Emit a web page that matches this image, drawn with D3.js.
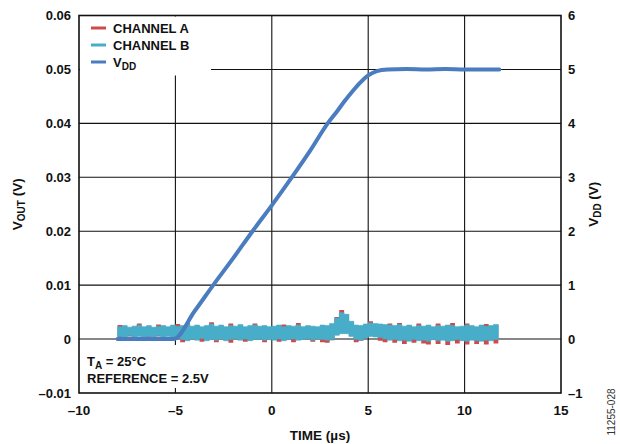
<!DOCTYPE html>
<html>
<head>
<meta charset="utf-8">
<script src="https://cdn.jsdelivr.net/npm/d3@7"></script>
<style>
  body { margin: 0; background: #fff; }
  svg { display: block; }
  text { font-family: "Liberation Sans", Arial, sans-serif; font-weight: bold; fill: #111; }
  text.code { font-weight: normal; fill: #333; }
</style>
</head>
<body>
<svg id="chart" width="620" height="444"></svg>
<script>
// time grid of the scope capture, µs (step 0.25)
const timeUs = d3.range(0, 80).map((i) => -8 + i * 0.25);

// channel B (cyan) noise band, mV
const chanBTop = [
  2.3, 2.5, 2.2, 2.4, 2.6, 2.3, 2.5, 2.2, 2.4, 2.5, 2.3, 2.6, 2.4,
  2.5, 2.7, 2.4, 2.6, 2.3, 2.5, 2.8, 2.4, 2.6, 2.3, 2.5, 2.4, 2.7, 2.3, 2.5, 2.6, 2.4, 2.5, 2.3,
  2.4, 2.6, 2.3, 2.5, 2.4, 2.6, 2.3, 2.5, 2.4, 2.3, 2.6, 2.5,
  2.9, 3.9, 4.9, 4.6, 3.3, 2.6, 2.5,
  2.8, 3.0, 2.9, 2.8, 2.7, 2.6, 2.5, 2.7,
  2.4, 2.6, 2.3, 2.5, 2.4, 2.6, 2.3, 2.5, 2.4, 2.6, 2.5, 2.3, 2.4, 2.6, 2.5, 2.3, 2.6, 2.4, 2.5, 2.7, 2.6
];
const chanBBot = [
  0.5, 0.4, 0.6, 0.4, 0.5, 0.3, 0.5, 0.4, 0.6, 0.4, 0.5, 0.4, 0.3,
  -0.1, -0.3, 0.0, -0.2, 0.1, -0.3, -0.1, -0.2, 0.0, -0.3, -0.1, 0.1, -0.2, 0.0, -0.3, -0.1, 0.0, -0.2, -0.1,
  -0.2, 0.0, -0.3, -0.1, 0.0, -0.2, -0.1, 0.1, -0.2, 0.0, -0.1, -0.2,
  -0.1, 0.7, 1.0, 1.0, 0.5, -0.1, -0.2,
  0.2, 0.5, 0.4, 0.3, 0.0, -0.2, -0.1, -0.3,
  -0.2, -0.4, -0.1, -0.3, -0.2, -0.4, -0.1, -0.3, -0.2, -0.4, -0.3, -0.1, -0.3, -0.4, -0.2, -0.3, -0.4, -0.2, -0.3, -0.1, -0.2
];

// channel A (red) noise band, mV
const chanATop = [
  2.6, 2.3, 2.1, 2.3, 2.9, 2.2, 2.4, 2.1, 2.7, 2.4, 2.2, 2.5, 2.8,
  2.4, 3.0, 2.3, 2.5, 2.2, 2.4, 3.1, 2.3, 2.5, 2.2, 2.9, 2.3, 2.6, 2.2, 2.4, 2.9, 2.3, 2.4, 2.2,
  2.3, 2.5, 2.7, 2.4, 2.3, 3.0, 2.2, 2.4, 2.3, 2.2, 2.5, 2.4,
  2.8, 4.1, 5.4, 4.5, 3.2, 2.5, 2.4,
  2.7, 3.3, 2.8, 2.7, 2.6, 2.9, 2.4, 3.0,
  2.3, 2.5, 2.2, 2.9, 2.3, 2.5, 2.2, 2.9, 2.3, 2.5, 3.0, 2.2, 2.3, 2.9, 2.4, 2.2, 2.5, 2.8, 2.4, 2.6, 2.5
];
const chanABot = [
  0.4, 0.5, 0.5, 0.3, 0.6, 0.4, 0.4, 0.5, 0.5, 0.3, 0.6, 0.5, 0.4,
  -0.6, -0.2, 0.1, -0.1, -0.5, -0.2, 0.0, -0.6, 0.1, -0.2, -0.7, 0.2, -0.1, -0.5, -0.2, 0.0, 0.1, -0.6, 0.0,
  -0.1, -0.5, -0.2, 0.0, -0.6, -0.1, 0.0, 0.2, -0.5, 0.1, -0.6, -0.7,
  -0.2, 0.8, 1.1, 1.1, 0.6, -0.6, -0.3,
  0.3, 0.6, 0.5, -0.3, -0.6, -0.1, -0.7, -0.2,
  -0.9, -0.3, -0.7, -0.2, -0.8, -1.0, 0.0, -0.9, -0.1, -1.1, -0.2, -0.8, -0.2, -1.0, -0.1, -0.9, -0.3, -1.0, -0.2, -0.8, -0.6
];

// supply ramp
const vddTime = [-8, -5.1, -4.0, -3.0, -2.0, -1.0, 0, 1.0, 2.0, 2.9, 3.4, 3.75, 4.2, 4.6, 5.0, 5.45, 6.0, 7.0, 8.0, 9.0, 10.0, 11.0, 11.8];
const vddVolts = [0, 0, 0.52, 1.02, 1.5, 2.0, 2.48, 2.98, 3.5, 4.0, 4.23, 4.4, 4.6, 4.76, 4.89, 4.97, 5.0, 5.01, 5.0, 5.01, 5.0, 5.0, 5.0];

const xTicks = [-10, -5, 0, 5, 10, 15];
const xTickLabels = ["–10", "–5", "0", "5", "10", "15"];
const yTicks = [-0.01, 0, 0.01, 0.02, 0.03, 0.04, 0.05, 0.06];
const yTickLabels = ["–0.01", "0", "0.01", "0.02", "0.03", "0.04", "0.05", "0.06"];
const yRightTicks = [-1, 0, 1, 2, 3, 4, 5, 6];
const yRightLabels = ["–1", "0", "1", "2", "3", "4", "5", "6"];

const colA = "#cf4a4c";
const colB = "#48adc8";
const colVdd = "#4a7dbf";

const svg = d3.select("#chart");
const L = 79, R = 561, T = 15.5, B = 393;

const x = d3.scaleLinear().domain([-10, 15]).range([L, R]);
const y = d3.scaleLinear().domain([-0.01, 0.06]).range([B, T]);
const yR = d3.scaleLinear().domain([-1, 6]).range([B, T]);

// grid
const grid = svg.append("g").attr("stroke", "#111").attr("stroke-width", 1.1);
xTicks.slice(1, -1).forEach((t) => {
  grid.append("line").attr("x1", x(t)).attr("x2", x(t)).attr("y1", T).attr("y2", B);
});
yTicks.slice(1, -1).forEach((t) => {
  grid.append("line").attr("x1", L).attr("x2", R).attr("y1", y(t)).attr("y2", y(t));
});

// white boxes behind legend and conditions
svg.append("rect").attr("x", L + 1).attr("y", T + 1).attr("width", 131).attr("height", 59).attr("fill", "#fff");
svg.append("rect").attr("x", L + 1).attr("y", 345).attr("width", 162).attr("height", B - 345 - 5).attr("fill", "#fff");

// noise bands
const band = d3.area()
  .curve(d3.curveStepAfter)
  .x((d) => x(d.t))
  .y0((d) => y(d.lo / 1000))
  .y1((d) => y(d.hi / 1000));

const bandA = timeUs.map((t, i) => ({ t, lo: chanABot[i], hi: chanATop[i] }));
const bandB = timeUs.map((t, i) => ({ t, lo: chanBBot[i], hi: chanBTop[i] }));

svg.append("path").datum(bandA).attr("fill", colA).attr("d", band);
svg.append("path").datum(bandB).attr("fill", colB).attr("stroke", colB).attr("stroke-width", 0.6).attr("d", band);

// VDD trace
const vddLine = d3.line().curve(d3.curveMonotoneX).x((d) => x(d[0])).y((d) => yR(d[1]));
svg.append("path")
  .datum(vddTime.map((t, i) => [t, vddVolts[i]]))
  .attr("fill", "none")
  .attr("stroke", colVdd)
  .attr("stroke-width", 4)
  .attr("stroke-linejoin", "round")
  .attr("stroke-linecap", "round")
  .attr("d", vddLine);

// frame
svg.append("rect").attr("x", L).attr("y", T).attr("width", R - L).attr("height", B - T)
  .attr("fill", "none").attr("stroke", "#111").attr("stroke-width", 1.6);

// x tick labels
svg.append("g").selectAll("text").data(xTicks).join("text")
  .attr("x", (d) => x(d)).attr("y", 415).attr("text-anchor", "middle")
  .attr("font-size", 13.5).text((d, i) => xTickLabels[i]);

// left tick labels
svg.append("g").selectAll("text").data(yTicks).join("text")
  .attr("x", 71).attr("y", (d) => y(d) + 4.8).attr("text-anchor", "end")
  .attr("font-size", 13).text((d, i) => yTickLabels[i]);

// right tick labels
svg.append("g").selectAll("text").data(yRightTicks).join("text")
  .attr("x", 568).attr("y", (d) => yR(d) + 4.8).attr("text-anchor", "start")
  .attr("font-size", 13).text((d, i) => yRightLabels[i]);

// axis titles
svg.append("text").attr("x", (L + R) / 2).attr("y", 440).attr("text-anchor", "middle")
  .attr("font-size", 13.5).text("TIME (µs)");

const lt = svg.append("text").attr("transform", `translate(22,${(T + B) / 2}) rotate(-90)`)
  .attr("text-anchor", "middle").attr("font-size", 13.5);
lt.append("tspan").text("V");
lt.append("tspan").attr("font-size", 10).attr("dy", 3).text("OUT");
lt.append("tspan").attr("dy", -3).text(" (V)");

const rt = svg.append("text").attr("transform", `translate(598,${(T + B) / 2}) rotate(-90)`)
  .attr("text-anchor", "middle").attr("font-size", 13.5);
rt.append("tspan").text("V");
rt.append("tspan").attr("font-size", 10).attr("dy", 3).text("DD");
rt.append("tspan").attr("dy", -3).text(" (V)");

svg.append("text").attr("class", "code").attr("transform", "translate(615,412) rotate(-90)")
  .attr("text-anchor", "middle").attr("font-size", 10).text("11255-028");

// legend
const legendItems = [
  { label: "CHANNEL A", color: colA, sub: null },
  { label: "CHANNEL B", color: colB, sub: null },
  { label: "V", color: colVdd, sub: "DD" }
];
legendItems.forEach((d, i) => {
  const ly = 28 + i * 17;
  svg.append("line").attr("x1", 91).attr("x2", 106).attr("y1", ly).attr("y2", ly)
    .attr("stroke", d.color).attr("stroke-width", 3);
  const tx = svg.append("text").attr("x", 113).attr("y", ly + 4.8).attr("font-size", 13);
  tx.append("tspan").text(d.label);
  if (d.sub) tx.append("tspan").attr("font-size", 10).attr("dy", 3).text(d.sub);
});

// conditions
const c1 = svg.append("text").attr("x", 87).attr("y", 366).attr("font-size", 13);
c1.append("tspan").text("T");
c1.append("tspan").attr("font-size", 10).attr("dy", 3).text("A");
c1.append("tspan").attr("dy", -3).text(" = 25°C");
svg.append("text").attr("x", 87).attr("y", 383).attr("font-size", 13).text("REFERENCE = 2.5V");
</script>
</body>
</html>
